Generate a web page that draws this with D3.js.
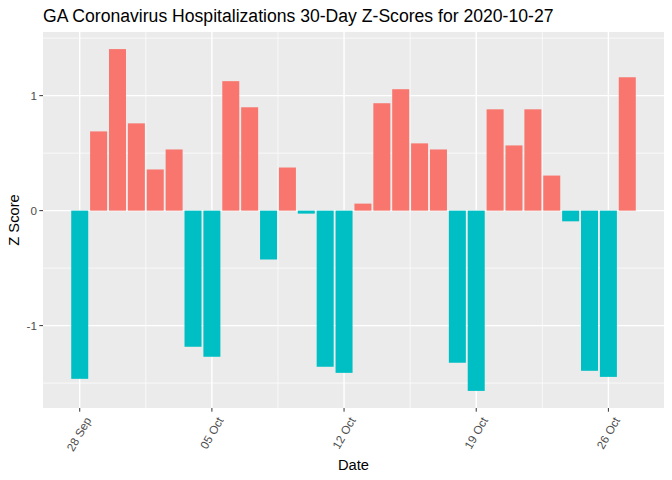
<!DOCTYPE html>
<html>
<head>
<meta charset="utf-8">
<script src="https://cdn.jsdelivr.net/npm/d3@7"></script>
<style>
  body { margin: 0; background: #fff; }
  text { font-family: "Liberation Sans", Arial, sans-serif; }
</style>
</head>
<body>
<div id="chart"></div>
<script>
const dates = [
  "2020-09-28", "2020-09-29", "2020-09-30", "2020-10-01", "2020-10-02",
  "2020-10-03", "2020-10-04", "2020-10-05", "2020-10-06", "2020-10-07",
  "2020-10-08", "2020-10-09", "2020-10-10", "2020-10-11", "2020-10-12",
  "2020-10-13", "2020-10-14", "2020-10-15", "2020-10-16", "2020-10-17",
  "2020-10-18", "2020-10-19", "2020-10-20", "2020-10-21", "2020-10-22",
  "2020-10-23", "2020-10-24", "2020-10-25", "2020-10-26", "2020-10-27"
];
const zScores = [
  -1.463, 0.689, 1.405, 0.759, 0.358,
  0.532, -1.184, -1.271, 1.126, 0.899,
  -0.425, 0.375, -0.026, -1.358, -1.411,
  0.061, 0.934, 1.056, 0.585, 0.532,
  -1.323, -1.568, 0.881, 0.567, 0.881,
  0.305, -0.093, -1.393, -1.446, 1.160
];
const xTicks = ["2020-09-28", "2020-10-05", "2020-10-12", "2020-10-19", "2020-10-26"];
const yTicks = [-1, 0, 1];
const yMinor = [-1.5, -0.5, 0.5, 1.5];

const W = 672, H = 480;
const margin = { top: 32, right: 8, bottom: 72, left: 43 };
const pw = W - margin.left - margin.right,
  ph = H - margin.top - margin.bottom;

const parse = d3.utcParse("%Y-%m-%d");
const data = dates.map((d, i) => ({ date: parse(d), z: zScores[i] }));
const DAY = 864e5;

// ggplot style expansion (5%) around the bar extents
const x0 = +data[0].date - 0.45 * DAY,
  x1 = +data[data.length - 1].date + 0.45 * DAY;
const xe = (x1 - x0) * 0.05;
const x = d3.scaleUtc().domain([x0 - xe, x1 + xe]).range([0, pw]);

const yLo = d3.min(zScores), yHi = d3.max(zScores);
const ye = (yHi - yLo) * 0.05;
const y = d3.scaleLinear().domain([yLo - ye, yHi + ye]).range([ph, 0]);

const svg = d3.select("#chart").append("svg")
  .attr("width", W).attr("height", H);

svg.append("text")
  .attr("x", margin.left).attr("y", 22)
  .attr("font-size", 17.6).attr("fill", "#000")
  .text("GA Coronavirus Hospitalizations 30-Day Z-Scores for 2020-10-27");

const g = svg.append("g").attr("transform", `translate(${margin.left},${margin.top})`);

g.append("rect").attr("width", pw).attr("height", ph).attr("fill", "#EBEBEB");

// minor grid
const xMajor = xTicks.map(parse);
const xMinor = [];
for (let i = -1; i < xMajor.length; i++) {
  const m = new Date(+(xMajor[i] || xMajor[0]) + (i < 0 ? -3.5 : 3.5) * DAY);
  if (x(m) > 0 && x(m) < pw) xMinor.push(m);
}
g.selectAll(".xminor").data(xMinor).join("line")
  .attr("x1", d => x(d)).attr("x2", d => x(d))
  .attr("y1", 0).attr("y2", ph)
  .attr("stroke", "#fff").attr("stroke-width", 0.7);
g.selectAll(".yminor").data(yMinor).join("line")
  .attr("x1", 0).attr("x2", pw)
  .attr("y1", d => y(d)).attr("y2", d => y(d))
  .attr("stroke", "#fff").attr("stroke-width", 0.7);

// major grid
g.selectAll(".xmajor").data(xMajor).join("line")
  .attr("x1", d => x(d)).attr("x2", d => x(d))
  .attr("y1", 0).attr("y2", ph)
  .attr("stroke", "#fff").attr("stroke-width", 1.4);
g.selectAll(".ymajor").data(yTicks).join("line")
  .attr("x1", 0).attr("x2", pw)
  .attr("y1", d => y(d)).attr("y2", d => y(d))
  .attr("stroke", "#fff").attr("stroke-width", 1.4);

// bars
const bw = x(new Date(+data[0].date + 0.9 * DAY)) - x(data[0].date);
g.selectAll(".bar").data(data).join("rect")
  .attr("x", d => x(d.date) - bw / 2)
  .attr("width", bw)
  .attr("y", d => y(Math.max(0, d.z)))
  .attr("height", d => Math.abs(y(d.z) - y(0)))
  .attr("fill", d => d.z > 0 ? "#F8766D" : "#00BFC4");

// y axis
g.selectAll(".ytick").data(yTicks).join("line")
  .attr("x1", -3.7).attr("x2", 0)
  .attr("y1", d => y(d)).attr("y2", d => y(d))
  .attr("stroke", "#333").attr("stroke-width", 1);
g.selectAll(".ylab").data(yTicks).join("text")
  .attr("x", -6).attr("y", d => y(d)).attr("dy", "0.35em")
  .attr("text-anchor", "end").attr("font-size", 11.7).attr("fill", "#4D4D4D")
  .text(d => d);

// x axis
const fmt = d3.utcFormat("%d %b");
g.selectAll(".xtick").data(xMajor).join("line")
  .attr("x1", d => x(d)).attr("x2", d => x(d))
  .attr("y1", ph).attr("y2", ph + 3.7)
  .attr("stroke", "#333").attr("stroke-width", 1);
g.selectAll(".xlab").data(xMajor).join("text")
  .attr("transform", d => `translate(${x(d) + 5},${ph + 8}) rotate(-60)`)
  .attr("text-anchor", "end").attr("dy", "0.7em")
  .attr("font-size", 11.7).attr("fill", "#4D4D4D")
  .text(d => fmt(d));

svg.append("text")
  .attr("x", margin.left + pw / 2).attr("y", 470)
  .attr("text-anchor", "middle").attr("font-size", 14.7)
  .text("Date");
svg.append("text")
  .attr("transform", `translate(19,${margin.top + ph / 2}) rotate(-90)`)
  .attr("text-anchor", "middle").attr("font-size", 14.7)
  .text("Z Score");
</script>
</body>
</html>
